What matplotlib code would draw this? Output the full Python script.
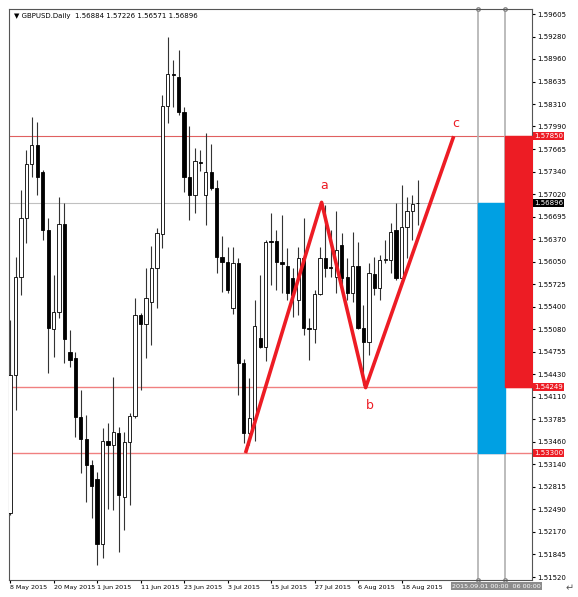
import numpy as np
import matplotlib.pyplot as plt

# GBPUSD daily candles, 8 May 2015 .. 20 Aug 2015
opens = [1.5244, 1.5442, 1.5583, 1.5668, 1.5745, 1.5772, 1.5734, 1.5650, 1.5508, 1.5533,
         1.5659, 1.5475, 1.5466, 1.5382, 1.5350, 1.5313, 1.5293, 1.5199, 1.5348, 1.5342,
         1.5359, 1.5267, 1.5346, 1.5383, 1.5528, 1.5515, 1.5547, 1.5596, 1.5645, 1.5828,
         1.5874, 1.5870, 1.5820, 1.5727, 1.5701, 1.5748, 1.5700, 1.5734, 1.5711, 1.5612,
         1.5605, 1.5539, 1.5603, 1.5459, 1.5359, 1.5377, 1.5495, 1.5482, 1.5634, 1.5634,
         1.5605, 1.5599, 1.5581, 1.5550, 1.5610, 1.5510, 1.5508, 1.5559, 1.5610, 1.5597,
         1.5583, 1.5629, 1.5583, 1.5560, 1.5599, 1.5510, 1.5490, 1.5587, 1.5567, 1.5607,
         1.5607, 1.5650, 1.5581, 1.5655, 1.5677, 1.56884]
highs = [1.5521, 1.5612, 1.5708, 1.5765, 1.5813, 1.5806, 1.5737, 1.5668, 1.5586, 1.5698,
         1.5689, 1.5507, 1.5475, 1.5421, 1.5385, 1.5320, 1.5303, 1.5366, 1.5373, 1.5439,
         1.5367, 1.5360, 1.5387, 1.5553, 1.5531, 1.5596, 1.5628, 1.5653, 1.5844, 1.5927,
         1.5894, 1.5909, 1.5827, 1.5800, 1.5768, 1.5765, 1.5789, 1.5774, 1.5722, 1.5641,
         1.5626, 1.5626, 1.5610, 1.5465, 1.5438, 1.5550, 1.5586, 1.5636, 1.5675, 1.5650,
         1.5672, 1.5625, 1.5596, 1.5626, 1.5668, 1.5524, 1.5564, 1.5626, 1.5686, 1.5650,
         1.5677, 1.5646, 1.5610, 1.5647, 1.5633, 1.5543, 1.5603, 1.5612, 1.5615, 1.5636,
         1.5661, 1.5689, 1.5715, 1.5698, 1.5700, 1.57226]
lows = [1.5241, 1.5392, 1.5557, 1.5632, 1.5727, 1.5701, 1.5636, 1.5445, 1.5468, 1.5524,
        1.5459, 1.5453, 1.5353, 1.5301, 1.5260, 1.5237, 1.5169, 1.5180, 1.5250, 1.5248,
        1.5188, 1.5220, 1.5255, 1.5380, 1.5421, 1.5466, 1.5485, 1.5539, 1.5625, 1.5804,
        1.5827, 1.5816, 1.5705, 1.5665, 1.5675, 1.5735, 1.5658, 1.5708, 1.5589, 1.5561,
        1.5560, 1.5530, 1.5413, 1.5344, 1.5341, 1.5347, 1.5481, 1.5462, 1.5571, 1.5564,
        1.5560, 1.5550, 1.5525, 1.5528, 1.5499, 1.5464, 1.5488, 1.5557, 1.5583, 1.5583,
        1.5560, 1.5561, 1.5550, 1.5547, 1.5508, 1.5428, 1.5471, 1.5557, 1.5550, 1.5603,
        1.5589, 1.5579, 1.5576, 1.5610, 1.5636, 1.56571]
closes = [1.5442, 1.5583, 1.5668, 1.5745, 1.5772, 1.5727, 1.5650, 1.5510, 1.5533, 1.5659,
          1.5494, 1.5464, 1.5382, 1.5350, 1.5313, 1.5283, 1.5199, 1.5347, 1.5342, 1.5360,
          1.5270, 1.5346, 1.5383, 1.5528, 1.5515, 1.5553, 1.5596, 1.5646, 1.5828, 1.5874,
          1.5873, 1.5820, 1.5727, 1.5701, 1.5749, 1.5746, 1.5734, 1.5711, 1.5612, 1.5605,
          1.5564, 1.5603, 1.5459, 1.5359, 1.5380, 1.5512, 1.5482, 1.5633, 1.5633, 1.5605,
          1.5602, 1.5560, 1.5557, 1.5610, 1.5510, 1.5508, 1.5559, 1.5610, 1.5596, 1.5596,
          1.5621, 1.5581, 1.5560, 1.5599, 1.5510, 1.5490, 1.5589, 1.5567, 1.5607, 1.5609,
          1.5647, 1.5581, 1.5655, 1.5677, 1.5688, 1.56896]

date_labels = ["8 May 2015", "20 May 2015", "1 Jun 2015", "11 Jun 2015", "23 Jun 2015",
               "3 Jul 2015", "15 Jul 2015", "27 Jul 2015", "6 Aug 2015", "18 Aug 2015"]
date_bars = [0, 8, 16, 24, 32, 40, 48, 56, 64, 72]

price_ticks = [1.59605, 1.59280, 1.58960, 1.58635, 1.58310, 1.57990, 1.57665, 1.57340,
               1.57020, 1.56695, 1.56370, 1.56050, 1.55725, 1.55400, 1.55080, 1.54755,
               1.54430, 1.54110, 1.53785, 1.53460, 1.53140, 1.52815, 1.52490, 1.52170,
               1.51845, 1.51520]

# ABC pattern (bar index, price)
abc_x = [43.3, 57.3, 65.4, 81.6]
abc_y = [1.5330, 1.5690, 1.5424, 1.5785]
level_c, level_b, level_0, last = 1.57850, 1.54249, 1.53300, 1.56896
vline_1, vline_2 = 86.0, 91.0

RED = '#ed1c24'
BLUE = '#00a0e3'

fig = plt.figure(figsize=(5.78, 5.97), dpi=100)
ax = fig.add_axes([9 / 578, 17 / 597, 523 / 578, 571 / 597])
ax.set_xlim(-0.2, 96.0)
ax.set_ylim(1.51477, 1.59677)

o = np.array(opens); h = np.array(highs); l = np.array(lows); c = np.array(closes)
x = np.arange(len(o))
ax.vlines(x, l, h, color='#333333', linewidth=0.8, zorder=2)
up = c >= o
ax.bar(x[up], (c - o)[up], bottom=o[up], width=0.6, color='white',
       edgecolor='black', linewidth=0.6, zorder=3)
ax.bar(x[~up], (o - c)[~up], bottom=c[~up], width=0.6, color='black',
       edgecolor='black', linewidth=0.6, zorder=3)

# levels
ax.axhline(level_c, color='#e06060', linewidth=0.8, zorder=1)
ax.axhline(level_b, color='#f08080', linewidth=1.0, zorder=1)
ax.axhline(level_0, color='#f08080', linewidth=1.0, zorder=1)
ax.axhline(last, color='#c0c0c0', linewidth=0.8, zorder=1)
for vx in (vline_1, vline_2):
    ax.axvline(vx, color='#b0b0b0', linewidth=1.2, zorder=1)
    ax.plot(vx, 1.59677, 'o', ms=2.5, mfc='white', mec='#888888', clip_on=False)
    ax.plot(vx, 1.51477, 'o', ms=2.5, mfc='white', mec='#888888', clip_on=False)

ax.fill_between([vline_1, vline_2], level_0, last, color=BLUE, zorder=4)
ax.fill_between([vline_2, 96.0], level_b, level_c, color=RED, zorder=4)

ax.plot(abc_x, abc_y, color=RED, linewidth=2.6, solid_capstyle='butt', zorder=5)
ax.text(abc_x[1] + 0.5, abc_y[1] + 0.0015, 'a', color=RED, fontsize=9, ha='center', va='bottom')
ax.text(abc_x[2] + 0.8, abc_y[2] - 0.0016, 'b', color=RED, fontsize=9, ha='center', va='top')
ax.text(abc_x[3] + 0.3, abc_y[3] + 0.0009, 'c', color=RED, fontsize=9, ha='center', va='bottom')

ax.text(0.01, 0.993, '\u25bc GBPUSD.Daily  1.56884 1.57226 1.56571 1.56896',
        transform=ax.transAxes, fontsize=5, va='top', ha='left')

# axes styling
for sp in ax.spines.values():
    sp.set_linewidth(0.8)
    sp.set_color('#555555')
ax.yaxis.tick_right()
ax.set_yticks(price_ticks)
ax.set_yticklabels([f'{p:.5f}' for p in price_ticks])
ax.tick_params(axis='y', labelsize=5, length=2, pad=2, direction='out')
ax.set_xticks(date_bars)
ax.set_xticklabels(date_labels)
ax.tick_params(axis='x', labelsize=4.6, length=2, pad=1.5)
for lab in ax.get_xticklabels():
    lab.set_horizontalalignment('left')

# price boxes on the right axis
for val, bg in ((level_c, RED), (last, 'black'), (level_b, RED), (level_0, RED)):
    ax.text(1.004, (val - 1.51477) / (1.59677 - 1.51477), f'{val:.5f}', transform=ax.transAxes,
            fontsize=5, color='white', va='center', ha='left',
            bbox=dict(boxstyle='square,pad=0.15', fc=bg, ec='none'))

# time box at the bottom
fig.text(452 / 578, 1 - 586 / 597, '2015.09.01 00:00  06 00:00', fontsize=4.6, color='white',
         va='center', ha='left', bbox=dict(boxstyle='square,pad=0.2', fc='#8c8c8c', ec='none'))
fig.text(566 / 578, 1 - 588 / 597, '\u21b5', fontsize=7, color='#555555', va='center')

fig.savefig('out.png', dpi=100)
